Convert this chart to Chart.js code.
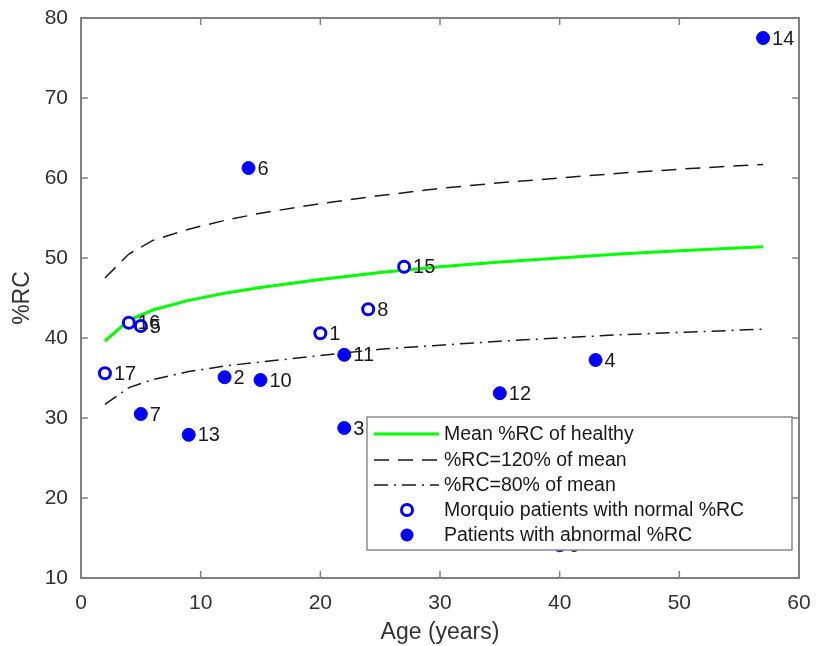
<!DOCTYPE html>
<html>
<head>
<meta charset="utf-8">
<script src="https://cdn.jsdelivr.net/npm/chart.js@4"></script>
<style>
  html, body { margin: 0; padding: 0; background: #fff; }
  #box { width: 816px; height: 646px; }
</style>
</head>
<body>
<div id="box"><canvas id="chart"></canvas></div>
<script>
/* Curvas de referência (idade em anos, %RC) */
const curveAges = [2, 4, 6, 9, 12, 15, 20, 25, 30, 35, 40, 45, 50, 57];
const meanRC  = [39.6, 42.2, 43.5, 44.7, 45.6, 46.3, 47.3, 48.2, 48.9, 49.5, 50.0, 50.5, 50.9, 51.4];
const upperRC = [47.5, 50.5, 52.2, 53.6, 54.7, 55.6, 56.8, 57.8, 58.7, 59.4, 60.0, 60.6, 61.1, 61.7];
const lowerRC = [31.7, 33.8, 34.8, 35.8, 36.5, 37.0, 37.8, 38.6, 39.1, 39.6, 40.0, 40.4, 40.7, 41.1];

/* Pacientes com %RC normal (círculos abertos) */
const normalIds  = [1, 5, 8, 15, 16, 17];
const normalAges = [20, 5, 24, 27, 4, 2];
const normalRC   = [40.6, 41.5, 43.6, 48.9, 41.9, 35.6];

/* Pacientes com %RC anormal (círculos cheios) */
const abnormalIds  = [2, 3, 4, 6, 7, 9, 10, 11, 12, 13, 14];
const abnormalAges = [12, 22, 43, 14, 5, 40, 15, 22, 35, 9, 57];
const abnormalRC   = [35.1, 28.75, 37.25, 61.25, 30.5, 14.1, 34.75, 37.9, 33.1, 27.9, 77.5];

/* Eixos */
const xTicks = [0, 10, 20, 30, 40, 50, 60];
const yTicks = [10, 20, 30, 40, 50, 60, 70, 80];

const FONT = "'Liberation Sans', Arial, sans-serif";
const BLUE = "#0000ff";
const AXIS = "#808080";

function pts(xs, ys) {
    return xs.map((x, i) => ({ x: x, y: ys[i] }));
}

/* Caixa do eixo com marcas internas, no estilo MATLAB */
const boxPlugin = {
    id: "boxPlugin",
    afterDatasetsDraw(chart) {
        const { ctx, chartArea: a, scales } = chart;
        ctx.save();
        ctx.strokeStyle = AXIS;
        ctx.lineWidth = 2;
        ctx.strokeRect(a.left, a.top, a.right - a.left, a.bottom - a.top);
        ctx.lineWidth = 1.5;
        ctx.beginPath();
        xTicks.forEach((t) => {
            const x = scales.x.getPixelForValue(t);
            ctx.moveTo(x, a.bottom); ctx.lineTo(x, a.bottom - 7);
            ctx.moveTo(x, a.top); ctx.lineTo(x, a.top + 7);
        });
        yTicks.forEach((t) => {
            const y = scales.y.getPixelForValue(t);
            ctx.moveTo(a.left, y); ctx.lineTo(a.left + 7, y);
            ctx.moveTo(a.right, y); ctx.lineTo(a.right - 7, y);
        });
        ctx.stroke();

        // Números dos pacientes ao lado de cada ponto
        ctx.fillStyle = "#1a1a1a";
        ctx.font = "20px " + FONT;
        ctx.textBaseline = "middle";
        [[3, normalIds], [4, abnormalIds]].forEach(([di, ids]) => {
            chart.getDatasetMeta(di).data.forEach((el, i) => {
                ctx.fillText(String(ids[i]), el.x + 9, el.y + 1);
            });
        });
        ctx.restore();
    },
};

/* Legenda desenhada por cima do gráfico */
const legendPlugin = {
    id: "legendPlugin",
    afterDraw(chart) {
        const ctx = chart.ctx;
        const L = 367, T = 417, R = 792, B = 550;
        ctx.save();
        ctx.fillStyle = "#fff";
        ctx.fillRect(L, T, R - L, B - T);
        ctx.strokeStyle = "#8a8a8a";
        ctx.lineWidth = 1.5;
        ctx.strokeRect(L, T, R - L, B - T);

        const rows = [434, 460, 485, 510, 535];
        const labels = [
            "Mean %RC of healthy",
            "%RC=120% of mean",
            "%RC=80% of mean",
            "Morquio patients with normal %RC",
            "Patients with abnormal %RC",
        ];
        const lineStyles = [
            { color: "#00ff00", width: 3, dash: [] },
            { color: "#1a1a1a", width: 1.5, dash: [15, 9] },
            { color: "#1a1a1a", width: 1.5, dash: [14, 6, 2, 6] },
        ];
        lineStyles.forEach((s, i) => {
            ctx.strokeStyle = s.color;
            ctx.lineWidth = s.width;
            ctx.setLineDash(s.dash);
            ctx.beginPath();
            ctx.moveTo(374, rows[i]);
            ctx.lineTo(439, rows[i]);
            ctx.stroke();
        });
        ctx.setLineDash([]);
        // marcador aberto
        ctx.beginPath();
        ctx.arc(407, rows[3], 5.5, 0, Math.PI * 2);
        ctx.fillStyle = "#fff";
        ctx.fill();
        ctx.strokeStyle = BLUE;
        ctx.lineWidth = 3;
        ctx.stroke();
        // marcador cheio
        ctx.beginPath();
        ctx.arc(407, rows[4], 6.5, 0, Math.PI * 2);
        ctx.fillStyle = BLUE;
        ctx.fill();

        ctx.fillStyle = "#1a1a1a";
        ctx.font = "19.5px " + FONT;
        ctx.textBaseline = "middle";
        labels.forEach((t, i) => ctx.fillText(t, 444, rows[i] + 1));
        ctx.restore();
    },
};

new Chart(document.getElementById("chart"), {
    type: "scatter",
    data: {
        datasets: [
            {
                data: pts(curveAges, meanRC),
                showLine: true, borderColor: "#00ff00", borderWidth: 3,
                pointRadius: 0, order: 3,
            },
            {
                data: pts(curveAges, upperRC),
                showLine: true, borderColor: "#1a1a1a", borderWidth: 1.5,
                borderDash: [15, 9], pointRadius: 0, order: 3,
            },
            {
                data: pts(curveAges, lowerRC),
                showLine: true, borderColor: "#1a1a1a", borderWidth: 1.5,
                borderDash: [14, 6, 2, 6], pointRadius: 0, order: 3,
            },
            {
                data: pts(normalAges, normalRC),
                pointRadius: 5.5, pointBorderWidth: 3,
                pointBackgroundColor: "#fff", pointBorderColor: BLUE, order: 1,
            },
            {
                data: pts(abnormalAges, abnormalRC),
                pointRadius: 6.5, pointBorderWidth: 1,
                pointBackgroundColor: BLUE, pointBorderColor: BLUE, order: 2,
            },
        ],
    },
    options: {
        responsive: true,
        maintainAspectRatio: false,
        animation: false,
        events: [],
        layout: { padding: { top: 18, right: 17, left: 0, bottom: 0 } },
        plugins: { legend: { display: false }, tooltip: { enabled: false } },
        scales: {
            x: {
                type: "linear", min: 0, max: 60,
                afterBuildTicks: (s) => { s.ticks = xTicks.map((v) => ({ value: v })); },
                afterFit: (s) => { s.height = 68; },
                grid: { display: false },
                border: { display: false },
                ticks: { color: "#333", font: { family: FONT, size: 21 }, padding: 5 },
                title: {
                    display: true, text: "Age (years)", color: "#333",
                    font: { family: FONT, size: 23 }, padding: { top: 0, bottom: 0 },
                },
            },
            y: {
                type: "linear", min: 10, max: 80,
                afterBuildTicks: (s) => { s.ticks = yTicks.map((v) => ({ value: v })); },
                afterFit: (s) => { s.width = 81; },
                grid: { display: false },
                border: { display: false },
                ticks: { color: "#333", font: { family: FONT, size: 21 }, padding: 5 },
                title: {
                    display: true, text: "%RC", color: "#333",
                    font: { family: FONT, size: 23 }, padding: { top: 9, bottom: 9 },
                },
            },
        },
    },
    plugins: [boxPlugin, legendPlugin],
});
</script>
</body>
</html>
